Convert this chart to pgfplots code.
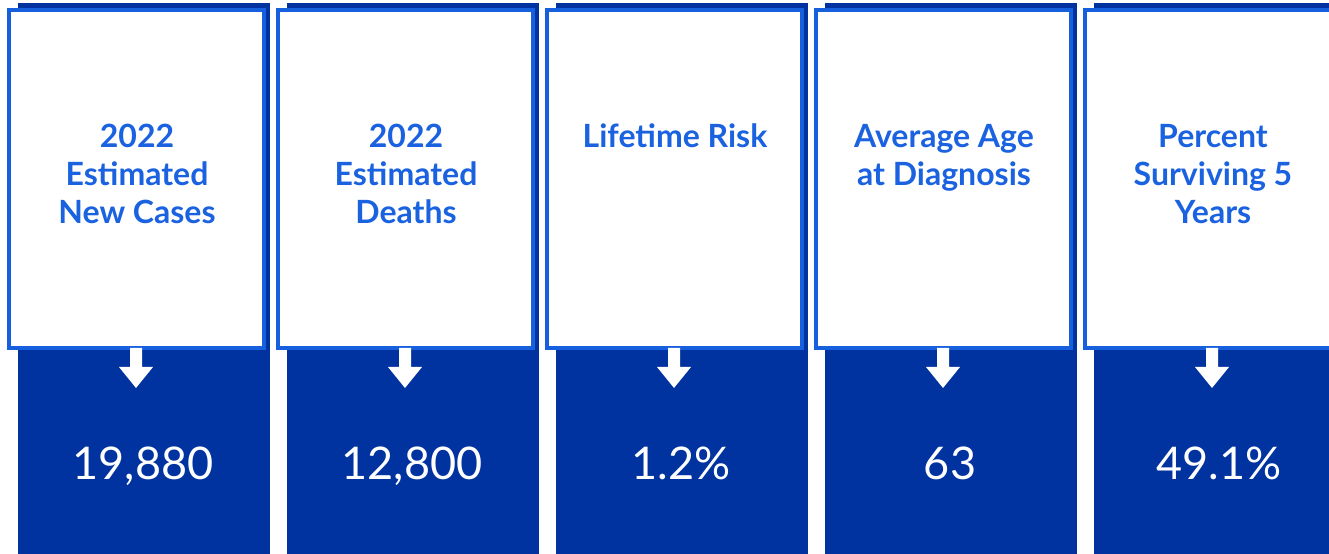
\documentclass[border=0pt]{standalone}
\usepackage{pgfplots}
\pgfplotsset{compat=1.18}
\usepackage{fontspec}
\setmainfont{Lato}
\definecolor{darkblue}{RGB}{0,51,160}
\definecolor{brightblue}{RGB}{22,96,222}
\definecolor{titleblue}{RGB}{26,98,224}
\begin{document}
\begin{tikzpicture}
\begin{axis}[name=ax, width=1329bp, height=554bp, scale only axis,
  xmin=0, xmax=1329, ymin=0, ymax=554, hide axis, clip=true]
% dark value panels
\addplot[fill=darkblue, draw=none] coordinates {(18,-5)(270,-5)(270,551)(18,551)} --cycle;
\addplot[fill=darkblue, draw=none] coordinates {(287,-5)(539,-5)(539,551)(287,551)} --cycle;
\addplot[fill=darkblue, draw=none] coordinates {(556,-5)(808,-5)(808,551)(556,551)} --cycle;
\addplot[fill=darkblue, draw=none] coordinates {(825,-5)(1077,-5)(1077,551)(825,551)} --cycle;
\addplot[fill=darkblue, draw=none] coordinates {(1094,-5)(1346,-5)(1346,551)(1094,551)} --cycle;
% white title boxes
\addplot[fill=white, draw=brightblue, line width=3.5bp] coordinates {(9,206)(264,206)(264,544)(9,544)} --cycle;
\addplot[fill=white, draw=brightblue, line width=3.5bp] coordinates {(278,206)(533,206)(533,544)(278,544)} --cycle;
\addplot[fill=white, draw=brightblue, line width=3.5bp] coordinates {(547,206)(802,206)(802,544)(547,544)} --cycle;
\addplot[fill=white, draw=brightblue, line width=3.5bp] coordinates {(816,206)(1071,206)(1071,544)(816,544)} --cycle;
\addplot[fill=white, draw=brightblue, line width=3.5bp] coordinates {(1085,206)(1340,206)(1340,544)(1085,544)} --cycle;
% arrows
\addplot[fill=white, draw=none] coordinates {(130,206)(142,206)(142,187)(153,187)(136,166)(119,187)(130,187)} --cycle;
\addplot[fill=white, draw=none] coordinates {(399,206)(411,206)(411,187)(422,187)(405,166)(388,187)(399,187)} --cycle;
\addplot[fill=white, draw=none] coordinates {(668,206)(680,206)(680,187)(691,187)(674,166)(657,187)(668,187)} --cycle;
\addplot[fill=white, draw=none] coordinates {(937,206)(949,206)(949,187)(960,187)(943,166)(926,187)(937,187)} --cycle;
\addplot[fill=white, draw=none] coordinates {(1206,206)(1218,206)(1218,187)(1229,187)(1212,166)(1195,187)(1206,187)} --cycle;
% titles
\tikzset{ttl/.style={anchor=base, inner sep=0pt, text=titleblue, font=\fontsize{32bp}{38bp}\selectfont\bfseries}}
\node[ttl] at (axis cs:137,406) {2022};
\node[ttl] at (axis cs:137,368) {Estimated};
\node[ttl] at (axis cs:137,330) {New Cases};
\node[ttl] at (axis cs:406,406) {2022};
\node[ttl] at (axis cs:406,368) {Estimated};
\node[ttl] at (axis cs:406,330) {Deaths};
\node[ttl] at (axis cs:675,406) {Lifetime Risk};
\node[ttl] at (axis cs:944,406) {Average Age};
\node[ttl] at (axis cs:944,368) {at Diagnosis};
\node[ttl] at (axis cs:1213,406) {Percent};
\node[ttl] at (axis cs:1213,368) {Surviving 5};
\node[ttl] at (axis cs:1213,330) {Years};
% values
\tikzset{val/.style={anchor=base, inner sep=0pt, text=white, font=\fontsize{45bp}{50bp}\selectfont}}
\node[val] at (axis cs:143,74) {19,880};
\node[val] at (axis cs:412,74) {12,800};
\node[val] at (axis cs:681,74) {1.2\%};
\node[val] at (axis cs:950,74) {63};
\node[val] at (axis cs:1219,74) {49.1\%};
\end{axis}
\pgfresetboundingbox
\path[use as bounding box] (ax.south west) rectangle (ax.north east);
\end{tikzpicture}
\end{document}
